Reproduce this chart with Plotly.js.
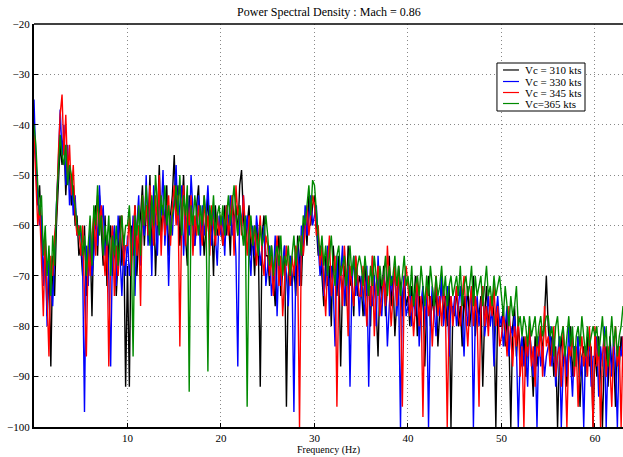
<!DOCTYPE html>
<html>
<head>
<meta charset="utf-8">
<script src="https://cdn.plot.ly/plotly-3.0.1.min.js"></script>
<style>html,body{margin:0;padding:0;background:#fff;}#chart{width:623px;height:457px;}</style>
</head>
<body>
<div id="chart"></div>
<script>
// Frequency grid step (Hz) of the spectrum samples
var freqStep = 0.2;

var seriesNames = ["Vc = 310 kts", "Vc = 330 kts", "Vc = 345 kts", "Vc=365 kts"];
var seriesColors = ["#000000", "#0000ff", "#ff0000", "#008a00"];

// PSD values (dB), one value per 0.2 Hz (each row = 5 Hz)
var psd310 = [
-44,-46,-56,-52,-62,-70,-64,-78,-68,-88,-66,-74,-60,-52,-44,-48,-42,-54,-46,-50,-56,-52,-60,-58,-66,
-64,-70,-60,-74,-66,-62,-78,-60,-56,-66,-54,-62,-68,-58,-72,-64,-60,-70,-62,-74,-66,-58,-68,-62,-92,
-68,-92,-60,-66,-56,-70,-62,-58,-52,-64,-56,-60,-50,-66,-54,-70,-58,-48,-62,-56,-60,-52,-66,-58,-54,
-46,-58,-52,-64,-56,-50,-62,-68,-54,-58,-60,-64,-56,-52,-62,-58,-66,-60,-54,-64,-58,-70,-56,-62,-60,
-60,-64,-56,-62,-58,-66,-54,-60,-56,-62,-52,-49,-58,-64,-60,-56,-66,-62,-70,-60,-64,-92,-62,-58,-66,
-66,-72,-64,-70,-76,-66,-62,-74,-68,-64,-96,-70,-66,-72,-68,-74,-62,-68,-72,-60,-58,-64,-54,-60,-56,
-54,-60,-66,-64,-70,-76,-66,-72,-68,-80,-64,-70,-74,-66,-88,-72,-68,-76,-64,-72,-70,-78,-66,-74,-70,
-72,-78,-68,-74,-70,-80,-66,-72,-76,-86,-70,-74,-68,-78,-72,-66,-76,-70,-82,-74,-68,-72,-78,-70,-76,
-74,-80,-72,-76,-70,-82,-74,-78,-72,-88,-76,-70,-80,-74,-78,-72,-84,-76,-70,-78,-74,-80,-72,-100,-76,
-78,-72,-80,-76,-84,-74,-78,-72,-80,-76,-70,-82,-76,-78,-74,-92,-78,-72,-80,-76,-74,-78,-100,-76,-80,
-80,-76,-84,-78,-82,-100,-80,-76,-86,-80,-84,-88,-82,-90,-84,-80,-86,-94,-82,-88,-84,-80,-86,-78,-70,
-80,-86,-82,-90,-84,-100,-86,-82,-88,-84,-92,-86,-80,-90,-84,-88,-82,-96,-86,-84,-90,-82,-88,-84,-100,
-84,-90,-82,-88,-100,-86,-84,-92,-82,-88,-86,-96,-84,-88,-82,-86
];
var psd330 = [
-35,-48,-54,-60,-58,-72,-62,-80,-66,-70,-76,-64,-56,-48,-37,-46,-40,-52,-44,-56,-50,-58,-54,-62,-60,
-62,-68,-97,-64,-72,-60,-70,-66,-58,-64,-52,-60,-56,-66,-62,-70,-88,-64,-60,-72,-58,-66,-74,-64,-70,
-62,-70,-66,-58,-74,-60,-54,-68,-58,-62,-50,-64,-56,-70,-52,-60,-66,-54,-58,-49,-64,-56,-72,-58,-62,
-54,-48,-60,-56,-52,-66,-58,-54,-62,-50,-58,-64,-60,-54,-66,-56,-62,-58,-52,-60,-64,-56,-62,-68,-58,
-62,-58,-66,-56,-60,-54,-62,-58,-66,-88,-56,-60,-54,-62,-58,-64,-70,-60,-66,-58,-62,-68,-64,-60,-72,
-68,-64,-74,-70,-62,-78,-66,-72,-68,-64,-70,-76,-66,-70,-97,-68,-64,-72,-60,-66,-56,-62,-58,-54,-60,
-58,-56,-64,-70,-66,-74,-70,-64,-78,-68,-72,-84,-66,-74,-70,-64,-76,-70,-68,-92,-72,-66,-74,-70,-78,
-70,-74,-78,-68,-92,-72,-76,-70,-80,-66,-74,-78,-70,-72,-84,-76,-70,-74,-68,-78,-72,-100,-74,-70,-78,
-76,-72,-80,-74,-78,-70,-84,-76,-72,-80,-74,-100,-78,-72,-76,-82,-74,-78,-70,-80,-76,-72,-86,-74,-78,
-74,-80,-76,-72,-78,-86,-74,-80,-76,-72,-100,-78,-74,-80,-76,-72,-82,-78,-74,-80,-76,-88,-78,-74,-80,
-78,-84,-80,-76,-86,-80,-82,-78,-84,-100,-86,-82,-88,-84,-92,-80,-86,-90,-84,-100,-82,-88,-84,-90,-86,
-84,-80,-88,-82,-92,-86,-82,-100,-88,-84,-90,-80,-86,-94,-84,-88,-82,-90,-86,-100,-84,-88,-82,-92,-86,
-86,-82,-94,-84,-88,-80,-100,-86,-84,-90,-82,-88,-100,-84,-86,-82
];
var psd345 = [
-42,-50,-60,-56,-66,-78,-62,-72,-86,-66,-70,-62,-58,-46,-38,-34,-46,-38,-50,-44,-54,-48,-58,-62,-60,
-66,-60,-74,-86,-64,-70,-62,-58,-66,-54,-60,-56,-64,-70,-62,-88,-66,-60,-74,-64,-70,-62,-58,-68,-64,
-64,-58,-70,-62,-56,-66,-60,-76,-54,-60,-56,-62,-52,-58,-64,-54,-60,-50,-66,-56,-62,-58,-54,-64,-56,
-52,-60,-54,-84,-58,-52,-64,-56,-60,-54,-66,-58,-62,-56,-60,-64,-54,-62,-58,-66,-56,-60,-64,-58,-62,
-58,-64,-60,-56,-62,-58,-54,-66,-52,-58,-56,-62,-54,-60,-66,-58,-62,-64,-60,-68,-62,-58,-66,-70,-62,
-64,-70,-66,-74,-68,-62,-72,-66,-78,-70,-64,-68,-72,-66,-70,-64,-68,-100,-62,-66,-60,-56,-62,-58,-54,
-56,-62,-60,-68,-64,-72,-78,-68,-62,-74,-70,-66,-96,-72,-68,-76,-64,-70,-82,-68,-72,-76,-66,-70,-74,
-74,-68,-72,-80,-70,-76,-66,-82,-72,-68,-78,-74,-70,-76,-64,-72,-80,-74,-68,-76,-70,-74,-96,-72,-68,
-72,-78,-74,-82,-76,-70,-80,-74,-98,-76,-72,-78,-74,-84,-76,-70,-78,-74,-80,-72,-76,-100,-78,-74,-80,
-76,-72,-78,-80,-74,-70,-78,-84,-76,-72,-80,-74,-78,-96,-76,-72,-80,-76,-82,-74,-78,-72,-80,-76,-84,
-82,-78,-80,-86,-76,-82,-88,-80,-84,-78,-90,-84,-100,-82,-86,-80,-88,-84,-92,-82,-86,-80,-90,-76,-84,
-82,-88,-84,-80,-90,-86,-84,-92,-80,-88,-100,-84,-86,-82,-90,-84,-96,-86,-82,-88,-84,-90,-80,-86,-100,
-80,-88,-84,-100,-86,-82,-90,-84,-88,-96,-84,-80,-88,-84,-100,-82
];
var psd365 = [
-40,-44,-52,-58,-54,-66,-60,-70,-64,-74,-62,-68,-56,-50,-42,-46,-48,-44,-52,-48,-50,-54,-56,-60,-62,
-60,-66,-62,-70,-64,-58,-68,-56,-60,-52,-62,-58,-66,-60,-64,-58,-70,-62,-66,-60,-68,-62,-58,-64,-60,
-60,-56,-64,-86,-58,-62,-56,-66,-54,-60,-52,-58,-64,-54,-60,-50,-56,-62,-54,-58,-52,-60,-56,-62,-58,
-56,-52,-58,-50,-62,-54,-58,-52,-93,-56,-60,-54,-58,-62,-56,-60,-54,-58,-89,-56,-60,-54,-62,-58,-56,
-60,-56,-62,-58,-54,-60,-56,-52,-58,-62,-56,-60,-64,-58,-96,-62,-58,-64,-60,-62,-66,-60,-64,-62,-58,
-62,-68,-64,-70,-66,-64,-68,-62,-70,-66,-68,-64,-70,-66,-62,-68,-64,-62,-66,-58,-60,-56,-52,-58,-51,
-52,-58,-62,-66,-62,-68,-64,-70,-66,-62,-68,-72,-66,-64,-70,-68,-66,-72,-68,-64,-70,-66,-72,-68,-66,
-68,-72,-66,-70,-74,-68,-72,-66,-70,-74,-68,-72,-70,-66,-74,-68,-72,-70,-66,-72,-68,-74,-70,-66,-72,
-70,-74,-68,-76,-72,-70,-74,-68,-72,-76,-70,-74,-68,-72,-76,-70,-74,-72,-68,-74,-70,-76,-72,-70,-74,
-72,-70,-74,-68,-76,-72,-70,-74,-72,-68,-76,-70,-74,-72,-70,-76,-72,-68,-74,-72,-76,-70,-74,-72,-70,
-74,-78,-72,-76,-80,-74,-78,-76,-72,-80,-78,-82,-78,-80,-84,-78,-82,-80,-78,-84,-80,-78,-82,-80,-78,
-78,-82,-80,-86,-80,-78,-84,-82,-80,-86,-82,-78,-84,-80,-88,-82,-80,-84,-78,-82,-86,-80,-84,-82,-80,
-82,-80,-86,-82,-78,-84,-80,-88,-82,-78,-84,-80,-86,-82,-80,-76
];

var xTickVals = [10, 20, 30, 40, 50, 60];
var yTickVals = [-20, -30, -40, -50, -60, -70, -80, -90, -100];

var allSeries = [psd310, psd330, psd345, psd365];
var traces = allSeries.map(function (vals, k) {
  return {
    x: vals.map(function (_, i) { return i * freqStep; }),
    y: vals,
    type: "scatter",
    mode: "lines",
    name: seriesNames[k],
    showlegend: false,
    line: { color: seriesColors[k], width: 1.4 }
  };
});

var serif = "Liberation Serif, Times New Roman, serif";

// Hand-drawn MATLAB-style legend (box, line samples, labels)
var legBox = { x0: 0.786, x1: 0.9355, y0: 0.7841, y1: 0.9032 };
var legRows = [0.8859, 0.8573, 0.8300, 0.8027];
var shapes = [
  { type: "line", xref: "paper", yref: "paper", x0: 0, x1: 1, y0: 1, y1: 1, line: { color: "#000", width: 1.5 } },
  { type: "rect", xref: "paper", yref: "paper", x0: legBox.x0, x1: legBox.x1, y0: legBox.y0, y1: legBox.y1,
    line: { color: "#000", width: 1 }, fillcolor: "#ffffff", layer: "above" }
];
var annotations = [];
seriesNames.forEach(function (nm, k) {
  shapes.push({ type: "line", xref: "paper", yref: "paper", x0: 0.7963, x1: 0.8234, y0: legRows[k], y1: legRows[k],
                line: { color: seriesColors[k], width: 1.2 }, layer: "above" });
  annotations.push({ xref: "paper", yref: "paper", x: 0.8302, y: legRows[k], xanchor: "left", yanchor: "middle",
                     text: nm, showarrow: false, font: { family: serif, size: 11, color: "#000" } });
});

var layout = {
  width: 623, height: 457,
  margin: { l: 34, r: 0, t: 24, b: 30, pad: 0 },
  paper_bgcolor: "#ffffff", plot_bgcolor: "#ffffff",
  font: { family: serif, size: 11, color: "#000" },
  title: { text: "Power Spectral Density : Mach = 0.86", font: { family: serif, size: 12, color: "#000" },
           x: 0.528, xanchor: "center", y: 0.974, yanchor: "middle" },
  showlegend: false,
  xaxis: {
    range: [0, 63], tickvals: xTickVals, ticks: "inside", ticklen: 4, tickcolor: "#000",
    showgrid: true, gridcolor: "#888", griddash: "1px,3px", gridwidth: 1,
    showline: true, linecolor: "#000", linewidth: 2, zeroline: false,
    tickfont: { family: serif, size: 11 },
    title: { text: "Frequency (Hz)", font: { family: serif, size: 10 }, standoff: 3 }
  },
  yaxis: {
    range: [-100, -20], tickvals: yTickVals, ticks: "inside", ticklen: 4, tickcolor: "#000",
    showgrid: true, gridcolor: "#888", griddash: "1px,3px", gridwidth: 1,
    showline: true, linecolor: "#000", linewidth: 2, zeroline: false,
    tickfont: { family: serif, size: 11 }
  },
  shapes: shapes,
  annotations: annotations
};

Plotly.newPlot("chart", traces, layout, { staticPlot: true, displayModeBar: false });
</script>
</body>
</html>
